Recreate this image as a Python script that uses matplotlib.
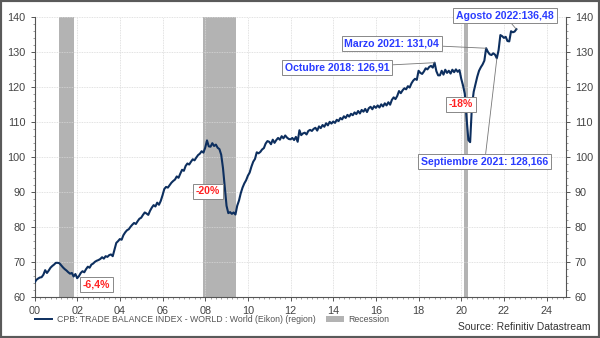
import numpy as np
import matplotlib
matplotlib.use("Agg")
import matplotlib.pyplot as plt
from matplotlib.lines import Line2D
from matplotlib.patches import Patch, Rectangle

plt.rcParams['font.family'] = ['Liberation Sans', 'DejaVu Sans']

# Monthly CPB world trade index, Jan 2000 .. Aug 2022
values_by_year = {
    2000: [64.0, 64.8, 65.2, 65.5, 65.6, 66.3, 67.6, 66.8, 67.5, 68.3, 68.8, 69.2],
    2001: [69.7, 69.7, 69.6, 69.0, 68.4, 67.9, 67.5, 67.0, 66.6, 66.8, 65.8, 66.5],
    2002: [65.3, 65.9, 66.8, 67.3, 67.0, 67.9, 68.6, 68.3, 69.2, 69.5, 70.0, 70.3],
    2003: [70.5, 70.8, 71.3, 70.9, 71.6, 71.4, 71.9, 72.1, 71.6, 73.5, 75.4, 75.9],
    2004: [76.5, 76.3, 77.6, 78.4, 79.0, 79.3, 80.0, 80.6, 81.1, 80.8, 81.6, 82.3],
    2005: [82.6, 83.4, 84.1, 83.8, 83.4, 84.6, 85.5, 86.2, 85.8, 86.9, 86.3, 87.4],
    2006: [89.0, 90.8, 91.4, 91.2, 91.9, 92.6, 93.1, 93.5, 94.4, 94.0, 95.2, 96.3],
    2007: [96.0, 97.4, 98.1, 97.8, 98.6, 99.3, 99.0, 99.8, 100.5, 100.9, 101.6, 101.2],
    2008: [102.6, 104.7, 103.0, 102.9, 103.9, 103.1, 103.5, 102.6, 102.2, 100.6, 96.8, 91.5],
    2009: [86.0, 83.9, 84.2, 83.7, 84.1, 83.5, 86.0, 87.5, 89.6, 91.2, 92.4, 93.3],
    2010: [94.6, 95.5, 97.2, 98.6, 99.4, 101.3, 101.0, 101.4, 102.1, 102.5, 103.8, 104.5],
    2011: [104.3, 103.6, 104.9, 104.0, 104.8, 105.4, 104.9, 105.9, 105.3, 106.1, 105.5, 105.1],
    2012: [105.0, 105.4, 104.8, 105.7, 104.3, 107.6, 106.2, 106.7, 106.9, 106.4, 107.4, 107.7],
    2013: [107.4, 108.0, 108.3, 107.5, 108.7, 108.2, 109.1, 108.6, 109.6, 109.0, 110.0, 109.5],
    2014: [110.1, 109.7, 110.6, 110.2, 111.1, 110.7, 111.6, 111.1, 112.0, 111.5, 112.3, 111.9],
    2015: [112.7, 112.2, 113.1, 112.4, 113.4, 112.9, 113.7, 112.8, 113.9, 114.3, 113.6, 114.5],
    2016: [114.0, 114.7, 114.1, 115.0, 114.4, 115.3, 114.7, 115.6, 114.9, 116.3, 117.0, 116.5],
    2017: [117.4, 118.8, 118.2, 119.0, 119.6, 119.3, 120.2, 119.8, 121.0, 121.8, 122.3, 122.0],
    2018: [124.6, 124.0, 123.7, 124.4, 125.3, 125.0, 125.7, 126.0, 125.5, 126.91, 124.5, 123.3],
    2019: [123.3, 124.6, 123.5, 124.9, 124.0, 124.6, 123.8, 124.9, 124.2, 125.0, 124.3, 124.8],
    2020: [122.3, 120.4, 118.0, 111.0, 104.8, 104.2, 114.5, 118.6, 120.7, 122.9, 124.6, 125.6],
    2021: [126.4, 127.5, 131.04, 130.0, 129.3, 129.1, 129.6, 129.2, 128.166, 130.5, 134.8, 134.5],
    2022: [134.0, 134.3, 133.1, 133.0, 135.9, 135.6, 135.8, 136.48],
}
values = [v for y in sorted(values_by_year) for v in values_by_year[y]]
months = np.arange(len(values)) / 12.0   # years since Jan 2000

recessions = [(1.17, 1.83), (7.92, 9.45), (20.12, 20.33)]

xticks = list(range(0, 25, 2))
xtick_labels = ["00", "02", "04", "06", "08", "10", "12", "14", "16", "18", "20", "22", "24"]
yticks = [60, 70, 80, 90, 100, 110, 120, 130, 140]

# (text, point x, point y, box x, box y)
callouts = [
    ("Agosto 2022:136,48", 22.58, 136.48, 22.05, 140.3),
    ("Marzo 2021: 131,04", 21.17, 131.04, 16.75, 132.3),
    ("Octubre 2018: 126,91", 18.75, 126.91, 14.19, 125.5),
    ("Septiembre 2021: 128,166", 21.67, 128.166, 21.1, 98.6),
]
drops = [("-6,4%", 2.91, 63.6), ("-20%", 8.14, 90.1), ("-18%", 19.98, 115.0)]

line_color = "#0d2f5f"
grey_band = "#b3b3b3"

fig = plt.figure(figsize=(6.0, 3.38), dpi=100)
ax = fig.add_axes([0.0575, 0.122, 0.8855, 0.828])

for a, b in recessions:
    ax.axvspan(a, b, color=grey_band, lw=0, zorder=1)

ax.plot(months, values, color=line_color, lw=1.5, zorder=3)

ax.set_xlim(0, 24.9)
ax.set_ylim(60, 140)
ax.set_xticks(xticks)
ax.set_xticklabels(xtick_labels)
ax.set_xticks(np.arange(0, 24.9, 0.25), minor=True)
ax.set_yticks(yticks)
ax.set_yticks(np.arange(60, 141, 2), minor=True)

ax.grid(True, which='major', color='#d8d8d8', lw=0.6, ls=(0, (1, 1)), zorder=0)
ax.tick_params(axis='both', which='major', labelsize=7.8, colors='#555555',
               labelcolor='#444444', length=3, width=0.7, direction='out')
ax.tick_params(axis='both', which='minor', length=1.5, width=0.5, colors='#777777',
               direction='out')
ax.tick_params(axis='y', which='both', right=True, labelright=True)
ax.spines['top'].set_visible(False)
for s in ['left', 'right', 'bottom']:
    ax.spines[s].set_color('#555555')
    ax.spines[s].set_linewidth(0.8)

box_style = dict(boxstyle='square,pad=0.25', fc='white', ec='#888888', lw=0.7)
for text, px, py, bx, by in callouts:
    ax.annotate(text, xy=(px, py), xytext=(bx, by), textcoords='data',
                ha='center', va='center', fontsize=7.6, fontweight='bold',
                color='#2a3cff', bbox=box_style, annotation_clip=False,
                arrowprops=dict(arrowstyle='-', color='#777777', lw=0.6,
                                shrinkA=0, shrinkB=0), zorder=5)

for text, bx, by in drops:
    ax.text(bx, by, text, ha='center', va='center', fontsize=7.6, fontweight='bold',
            color='#ff2222', bbox=box_style, zorder=5)

handles = [Line2D([0], [0], color=line_color, lw=1.4),
           Patch(facecolor=grey_band, edgecolor='none')]
labels = ["CPB: TRADE BALANCE INDEX - WORLD : World (Eikon) (region)", "Recession"]
fig.legend(handles, labels, loc='center left', bbox_to_anchor=(0.045, 0.055),
           ncol=2, frameon=False, fontsize=6.3, labelcolor='#555555',
           handlelength=2.0, handleheight=0.6, columnspacing=1.2, handletextpad=0.5)

fig.text(0.985, 0.018, "Source: Refinitiv Datastream", ha='right', va='bottom',
         fontsize=7.5, color='#333333')

fig.patches.append(Rectangle((0, 0), 1, 1, transform=fig.transFigure, fill=False,
                             edgecolor='#5a5a5a', lw=3, zorder=10))

fig.savefig("out.png", dpi=100)
